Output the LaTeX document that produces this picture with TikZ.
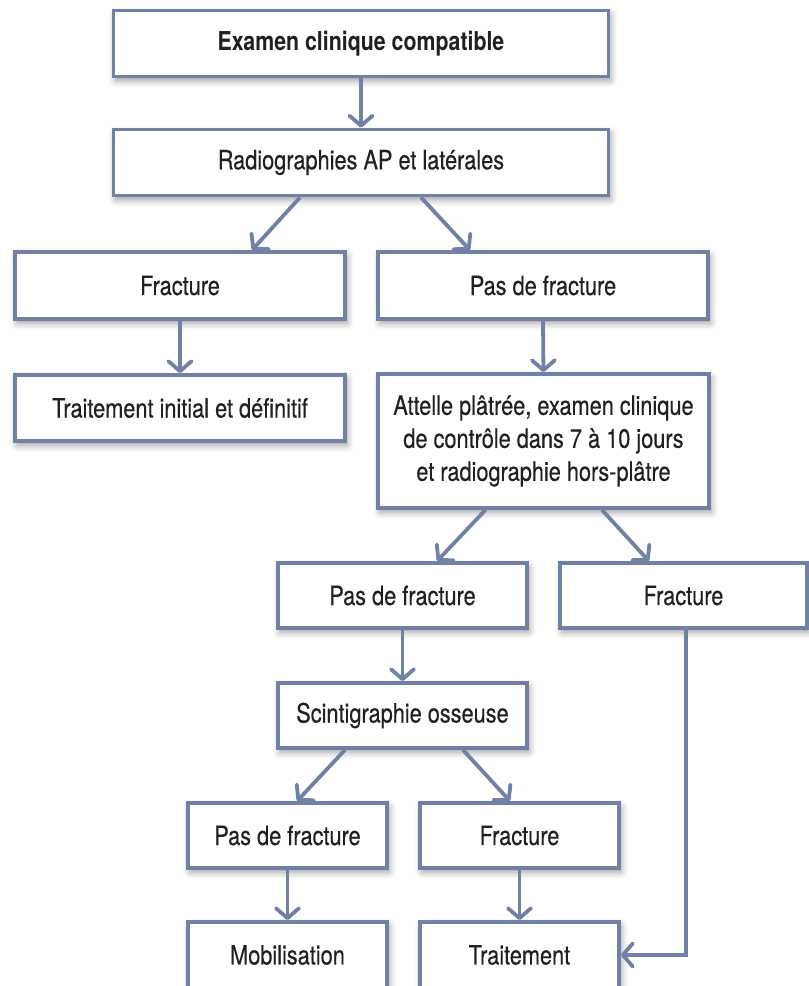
\documentclass[tikz,border=0pt]{standalone}
\usepackage{fontspec}
\setmainfont{TeX Gyre Heros}[FakeStretch=0.82,FakeBold=0.35]
\newfontfamily\boldhead{TeX Gyre Heros Bold}[FakeStretch=0.82]
\usetikzlibrary{arrows.meta,shadows.blur}
\definecolor{boxline}{HTML}{7080A6}
\definecolor{txt}{HTML}{231F20}
\begin{document}
\begin{tikzpicture}[x=1pt,y=-1pt,
  box/.style={draw=boxline, line width=3.8pt, fill=white, inner sep=0pt,
    text=txt, align=center, font=\fontsize{26.5}{33}\selectfont,
    blur shadow={shadow xshift=2pt, shadow yshift=-4pt, shadow blur radius=7pt, shadow opacity=40}},
  arr/.style={draw=boxline, line width=3.8pt,
    -{Straight Barb[length=10pt,width=23pt,round]}}]
\useasboundingbox (0,0) rectangle (809,986);
\clip (0,0) rectangle (809,986);
\node[box, minimum width=495pt, minimum height=66pt, font=\boldhead\fontsize{26}{33}\selectfont] (B1) at (361,43.5) {Examen clinique compatible};
\node[box, minimum width=495pt, minimum height=66pt] (B2) at (361,162.5) {Radiographies AP et latérales};
\node[box, minimum width=330pt, minimum height=67pt] (F1) at (180,285.5) {Fracture};
\node[box, minimum width=330pt, minimum height=67pt] (P1) at (543,285.5) {Pas de fracture};
\node[box, minimum width=330pt, minimum height=66pt] (T1) at (180,408) {Traitement initial et définitif};
\node[box, minimum width=331pt, minimum height=134pt] (A) at (543.5,441) {Attelle plâtrée, examen clinique\\de contrôle dans 7 à 10 jours\\et radiographie hors-plâtre};
\node[box, minimum width=249pt, minimum height=65pt] (P2) at (402.5,595.5) {Pas de fracture};
\node[box, minimum width=247pt, minimum height=65pt] (F2) at (683.5,595.5) {Fracture};
\node[box, minimum width=249pt, minimum height=65pt] (S) at (402.5,715.5) {Scintigraphie osseuse};
\node[box, minimum width=199pt, minimum height=65pt] (P3) at (287.5,835.5) {Pas de fracture};
\node[box, minimum width=199pt, minimum height=65pt] (F3) at (519.5,835.5) {Fracture};
\node[box, minimum width=199pt, minimum height=66pt] (M) at (287.5,955) {Mobilisation};
\node[box, minimum width=199pt, minimum height=66pt] (T) at (519.5,955) {Traitement};
\draw[arr] (B1.south) -- (B2.north);
\draw[arr] ([xshift=-61pt]B2.south) -- ([xshift=72pt]F1.north);
\draw[arr] ([xshift=60pt]B2.south) -- ([xshift=-73pt]P1.north);
\draw[arr] (F1.south) -- (T1.north);
\draw[arr] (P1.south) -- (A.north);
\draw[arr] ([xshift=-58pt]A.south) -- ([xshift=34.5pt]P2.north);
\draw[arr] ([xshift=58.5pt]A.south) -- ([xshift=-34.5pt]F2.north);
\draw[arr] (P2.south) -- (S.north);
\draw[arr] ([xshift=-57.5pt]S.south) -- ([xshift=9.5pt]P3.north);
\draw[arr] ([xshift=60.5pt]S.south) -- ([xshift=-9.5pt]F3.north);
\draw[arr] (P3.south) -- (M.north);
\draw[arr] (F3.south) -- (T.north);
\draw[arr] ([xshift=2.5pt]F2.south) |- (T.east);
\end{tikzpicture}
\end{document}
